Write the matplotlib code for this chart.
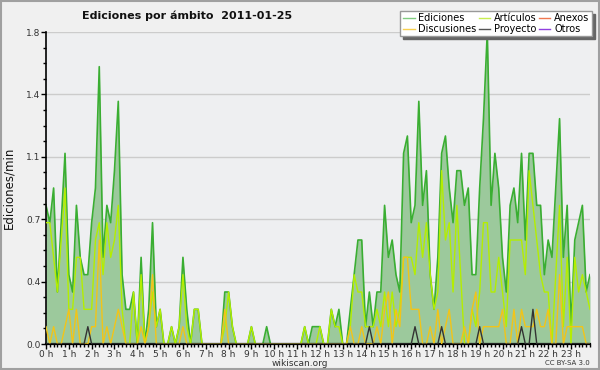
import matplotlib
matplotlib.use("Agg")
import matplotlib.pyplot as plt
import numpy as np
from matplotlib.lines import Line2D
from matplotlib.patches import Rectangle
from matplotlib.ticker import FixedLocator, MultipleLocator

# edits per minute, one value per 10-minute slot (00:00 .. 23:50)
ediciones = [
    0.8, 0.7, 0.9, 0.3, 0.7, 1.1, 0.4, 0.3, 0.8, 0.5, 0.4, 0.4,
    0.7, 0.9, 1.6, 0.5, 0.8, 0.7, 1.0, 1.4, 0.4, 0.2, 0.2, 0.3,
    0.0, 0.5, 0.0, 0.2, 0.7, 0.1, 0.2, 0.0, 0.0, 0.1, 0.0, 0.1,
    0.5, 0.2, 0.0, 0.2, 0.2, 0.0, 0.0, 0.0, 0.0, 0.0, 0.0, 0.3,
    0.3, 0.1, 0.0, 0.0, 0.0, 0.0, 0.1, 0.0, 0.0, 0.0, 0.1, 0.0,
    0.0, 0.0, 0.0, 0.0, 0.0, 0.0, 0.0, 0.0, 0.1, 0.0, 0.1, 0.1,
    0.1, 0.0, 0.0, 0.2, 0.1, 0.2, 0.0, 0.0, 0.2, 0.4, 0.6, 0.6,
    0.1, 0.3, 0.1, 0.3, 0.3, 0.8, 0.5, 0.6, 0.4, 0.3, 1.1, 1.2,
    0.7, 0.8, 1.4, 0.8, 1.0, 0.4, 0.2, 0.5, 1.1, 1.2, 0.9, 0.7,
    1.0, 1.0, 0.8, 0.9, 0.4, 0.4, 0.9, 1.3, 1.8, 0.8, 1.1, 0.9,
    0.5, 0.3, 0.8, 0.9, 0.7, 1.1, 0.6, 1.1, 1.1, 0.8, 0.8, 0.4,
    0.6, 0.5, 0.9, 1.3, 0.5, 0.8, 0.1, 0.6, 0.7, 0.8, 0.3, 0.4,
]
articulos = [
    0.7, 0.7, 0.5, 0.3, 0.6, 0.9, 0.2, 0.2, 0.5, 0.5, 0.2, 0.2,
    0.2, 0.6, 0.7, 0.4, 0.7, 0.5, 0.6, 0.8, 0.2, 0.0, 0.0, 0.3,
    0.0, 0.4, 0.0, 0.1, 0.3, 0.1, 0.2, 0.0, 0.0, 0.1, 0.0, 0.1,
    0.4, 0.1, 0.0, 0.2, 0.2, 0.0, 0.0, 0.0, 0.0, 0.0, 0.0, 0.1,
    0.3, 0.1, 0.0, 0.0, 0.0, 0.0, 0.1, 0.0, 0.0, 0.0, 0.0, 0.0,
    0.0, 0.0, 0.0, 0.0, 0.0, 0.0, 0.0, 0.0, 0.1, 0.0, 0.0, 0.0,
    0.1, 0.0, 0.0, 0.2, 0.1, 0.1, 0.0, 0.0, 0.1, 0.4, 0.3, 0.3,
    0.1, 0.1, 0.1, 0.2, 0.1, 0.3, 0.1, 0.3, 0.1, 0.2, 0.5, 0.5,
    0.5, 0.4, 0.7, 0.5, 0.7, 0.4, 0.2, 0.3, 1.0, 0.6, 0.7, 0.3,
    0.8, 0.4, 0.0, 0.0, 0.2, 0.1, 0.3, 0.7, 0.7, 0.3, 0.3, 0.5,
    0.3, 0.1, 0.6, 0.6, 0.6, 0.6, 0.4, 1.0, 0.8, 0.6, 0.4, 0.3,
    0.3, 0.0, 0.4, 0.8, 0.1, 0.5, 0.0, 0.5, 0.3, 0.4, 0.3, 0.2,
]
discusiones = [
    0.1, 0.0, 0.1, 0.0, 0.0, 0.1, 0.2, 0.0, 0.2, 0.0, 0.0, 0.0,
    0.1, 0.1, 0.6, 0.0, 0.1, 0.0, 0.1, 0.2, 0.1, 0.0, 0.0, 0.0,
    0.0, 0.1, 0.0, 0.1, 0.4, 0.0, 0.0, 0.0, 0.0, 0.0, 0.0, 0.0,
    0.1, 0.0, 0.0, 0.0, 0.0, 0.0, 0.0, 0.0, 0.0, 0.0, 0.0, 0.2,
    0.0, 0.0, 0.0, 0.0, 0.0, 0.0, 0.0, 0.0, 0.0, 0.0, 0.0, 0.0,
    0.0, 0.0, 0.0, 0.0, 0.0, 0.0, 0.0, 0.0, 0.0, 0.0, 0.0, 0.0,
    0.0, 0.0, 0.0, 0.0, 0.0, 0.0, 0.0, 0.0, 0.1, 0.0, 0.0, 0.1,
    0.0, 0.0, 0.0, 0.1, 0.0, 0.2, 0.3, 0.0, 0.2, 0.1, 0.5, 0.5,
    0.2, 0.2, 0.2, 0.0, 0.0, 0.1, 0.0, 0.2, 0.0, 0.1, 0.2, 0.0,
    0.0, 0.0, 0.1, 0.0, 0.2, 0.3, 0.0, 0.1, 0.1, 0.1, 0.1, 0.1,
    0.2, 0.0, 0.0, 0.2, 0.0, 0.2, 0.1, 0.1, 0.1, 0.2, 0.1, 0.1,
    0.2, 0.0, 0.0, 0.4, 0.0, 0.1, 0.1, 0.1, 0.1, 0.1, 0.0, 0.0,
]
proyecto = [
    0.0, 0.0, 0.0, 0.0, 0.0, 0.0, 0.0, 0.0, 0.0, 0.0, 0.0, 0.1,
    0.0, 0.0, 0.0, 0.0, 0.0, 0.0, 0.0, 0.0, 0.0, 0.0, 0.0, 0.0,
    0.0, 0.0, 0.0, 0.0, 0.0, 0.0, 0.0, 0.0, 0.0, 0.0, 0.0, 0.0,
    0.0, 0.0, 0.0, 0.0, 0.0, 0.0, 0.0, 0.0, 0.0, 0.0, 0.0, 0.0,
    0.0, 0.0, 0.0, 0.0, 0.0, 0.0, 0.0, 0.0, 0.0, 0.0, 0.0, 0.0,
    0.0, 0.0, 0.0, 0.0, 0.0, 0.0, 0.0, 0.0, 0.0, 0.0, 0.0, 0.0,
    0.0, 0.0, 0.0, 0.0, 0.0, 0.0, 0.0, 0.0, 0.0, 0.0, 0.0, 0.0,
    0.0, 0.1, 0.0, 0.0, 0.0, 0.0, 0.0, 0.0, 0.0, 0.0, 0.0, 0.0,
    0.0, 0.1, 0.0, 0.0, 0.0, 0.0, 0.0, 0.0, 0.1, 0.0, 0.0, 0.0,
    0.0, 0.0, 0.0, 0.0, 0.0, 0.0, 0.1, 0.0, 0.0, 0.0, 0.0, 0.0,
    0.0, 0.0, 0.0, 0.0, 0.0, 0.1, 0.0, 0.0, 0.2, 0.0, 0.0, 0.0,
    0.0, 0.0, 0.0, 0.0, 0.0, 0.0, 0.0, 0.0, 0.0, 0.0, 0.0, 0.0,
]
hour_labels = [f"{h} h" for h in range(24)]
y_ticks = [0.0, 0.36, 0.72, 1.08, 1.44, 1.8]

# 10-minute slots expressed in hours
t = np.arange(len(ediciones)) / 6

fig = plt.figure(figsize=(6, 3.7), dpi=100, facecolor="#f0f0f0")
ax = fig.add_axes([46 / 600, 26 / 370, 544 / 600, 312 / 370])
ax.set_facecolor("#eeeff1")

# total edits as filled area, categories as lines on top
ax.fill_between(t, ediciones, 0, color="#9cc99c", lw=0, zorder=1)
ax.plot(t, ediciones, color="#3aae32", lw=1.2, zorder=2)
ax.plot(t, articulos, color="#b4ee00", lw=1.0, zorder=3)
ax.plot(t, discusiones, color="#f2c418", lw=1.0, zorder=3)
ax.plot(t, proyecto, color="#333333", lw=1.0, zorder=3)

ax.set_xlim(t[0], t[-1])
ax.set_ylim(0, 1.8)

ax.xaxis.set_major_locator(FixedLocator(range(24)))
ax.set_xticklabels(hour_labels)
ax.xaxis.set_minor_locator(MultipleLocator(1 / 6))
ax.yaxis.set_major_locator(FixedLocator(y_ticks))
ax.set_yticklabels([f"{v:.1f}" for v in y_ticks])
ax.yaxis.set_minor_locator(MultipleLocator(0.09))
ax.tick_params(axis="both", which="major", direction="out", length=3.5, width=1,
               labelsize=6.5, labelcolor="#333333", pad=0.5)
ax.tick_params(axis="both", which="minor", direction="out", length=2.5, width=1)
ax.grid(axis="y", which="major", color="#cccccc", lw=1)
ax.set_axisbelow(True)

for side in ["top", "right"]:
    ax.spines[side].set_visible(False)
ax.spines["left"].set_linewidth(1.2)
ax.spines["bottom"].set_linewidth(1.6)

ax.set_ylabel("Ediciones/min", fontsize=8.5, color="#111111")
ax.yaxis.set_label_coords(-0.056, 0.5)

fig.text(0.312, 0.958, "Ediciones por ámbito  2011-01-25", fontsize=8,
         fontweight="bold", ha="center", va="center", color="#111111")

handles = [
    Line2D([0], [0], color="#80cc80", lw=1, label="Ediciones"),
    Line2D([0], [0], color="#f8d050", lw=1, label="Discusiones"),
    Line2D([0], [0], color="#c8ee50", lw=1, label="Artículos"),
    Line2D([0], [0], color="#555555", lw=1, label="Proyecto"),
    Line2D([0], [0], color="#f07850", lw=1, label="Anexos"),
    Line2D([0], [0], color="#9040e0", lw=1, label="Otros"),
]
leg = fig.legend(handles=handles, ncol=3, loc="upper right",
                 bbox_to_anchor=(592 / 600, 1 - 11 / 370), fontsize=7,
                 frameon=True, fancybox=False, framealpha=1,
                 facecolor="white", edgecolor="#999999",
                 shadow={"color": "#666666", "alpha": 1},
                 handlelength=1.2, handletextpad=0.4, columnspacing=0.2,
                 labelspacing=0.05, borderpad=0.25, borderaxespad=0)
leg.get_frame().set_linewidth(1)

fig.text(0.5, 7 / 370, "wikiscan.org", fontsize=6.5, ha="center", va="center",
         color="#333333")
fig.text(0.983, 7 / 370, "CC BY-SA 3.0", fontsize=5, ha="right", va="center",
         color="#333333")

# outer frame
fig.patches.append(Rectangle((0.0015, 0.0025), 0.997, 0.995, transform=fig.transFigure,
                             fill=False, edgecolor="#a0a0a0", lw=1.5))

fig.savefig("out.png", dpi=100, facecolor=fig.get_facecolor())
